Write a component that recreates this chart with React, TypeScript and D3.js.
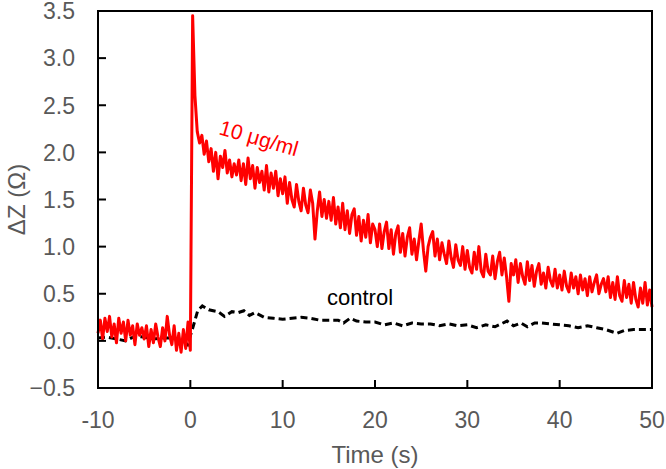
import React from "react";
import * as d3 from "d3";

const redStart = -10;
const redStep = 0.25;
const redValues: number[] = [
  0.08, 0.22, 0.02, 0.24, 0.10, 0.26, 0.04, 0.18, -0.02, 0.24, 0.08, 0.20, 0.00, 0.22, 0.06, 0.16, -0.04, 0.18, 0.06, 0.14,
  0.02, 0.16, -0.06, 0.12, -0.02, 0.18, 0.04, -0.06, 0.14, 0.00, 0.26, 0.06, -0.04, 0.16, -0.10, 0.08, -0.12, 0.12, -0.08, 0.20,
  -0.10, 3.45, 2.60, 2.22, 2.10, 2.18, 1.98, 2.12, 1.90, 2.04, 1.80, 2.00, 1.72, 1.96, 1.84, 2.02, 1.78, 1.92, 1.74, 1.88,
  1.76, 1.92, 1.70, 1.88, 1.66, 1.94, 1.72, 1.86, 1.62, 1.84, 1.68, 1.80, 1.60, 1.86, 1.58, 1.78, 1.62, 1.80, 1.54, 1.72,
  1.56, 1.74, 1.46, 1.68, 1.50, 1.42, 1.66, 1.48, 1.38, 1.62, 1.44, 1.36, 1.60, 1.46, 1.08, 1.38, 1.58, 1.32, 1.50, 1.30,
  1.48, 1.28, 1.52, 1.24, 1.42, 1.20, 1.46, 1.18, 1.38, 1.14, 1.34, 1.40, 1.12, 1.32, 1.06, 1.28, 1.10, 1.34, 1.04, 1.24,
  1.18, 1.00, 1.24, 0.98, 1.16, 1.26, 0.98, 1.18, 0.92, 1.14, 1.22, 0.94, 1.14, 0.90, 1.10, 1.20, 0.92, 1.08, 0.86, 1.06,
  1.24, 0.96, 0.74, 1.00, 1.10, 1.16, 0.90, 1.08, 0.86, 1.04, 0.92, 0.82, 1.06, 0.88, 0.78, 1.02, 0.86, 0.80, 1.00, 0.76,
  0.96, 0.78, 0.72, 0.94, 0.76, 1.00, 0.74, 0.68, 0.92, 0.74, 0.70, 0.90, 0.66, 0.84, 0.94, 0.70, 0.88, 0.68, 0.42, 0.82,
  0.70, 0.86, 0.62, 0.82, 0.68, 0.60, 0.84, 0.64, 0.80, 0.58, 0.74, 0.82, 0.60, 0.72, 0.56, 0.78, 0.64, 0.58, 0.76, 0.56,
  0.70, 0.54, 0.74, 0.58, 0.52, 0.72, 0.56, 0.68, 0.50, 0.70, 0.54, 0.66, 0.48, 0.68, 0.52, 0.62, 0.70, 0.50, 0.60, 0.66,
  0.52, 0.68, 0.46, 0.62, 0.44, 0.68, 0.48, 0.42, 0.64, 0.46, 0.60, 0.40, 0.62, 0.44, 0.36, 0.56, 0.40, 0.62, 0.38, 0.54,
  0.36,
];

const controlTime: number[] = [
  -10, -9, -8, -7, -6, -5, -4, -3, -2, -1, -0.3, 0.3, 0.8, 1.3, 2, 3, 3.7, 4.5, 5.2, 5.8, 6.4, 7, 8, 9, 10,
  11, 12, 13, 14, 15, 16, 16.6, 17.3, 18, 19, 20, 21, 22, 23, 24, 25, 26, 27, 28, 29, 30, 31, 32, 33, 34.3,
  35, 35.8, 36.5, 37.3, 38, 39, 40, 41, 42, 43, 44, 45, 46.2, 47, 48, 49, 50,
];
const controlValues: number[] = [
  0.03, 0.04, 0.02, 0.0, 0.05, 0.04, 0.02, 0.03, 0.03, 0.02, -0.04, 0.15, 0.32, 0.37, 0.33, 0.31, 0.26, 0.31, 0.30, 0.32, 0.27, 0.30, 0.25, 0.24, 0.23,
  0.24, 0.25, 0.24, 0.22, 0.22, 0.22, 0.19, 0.24, 0.21, 0.20, 0.20, 0.17, 0.19, 0.16, 0.19, 0.18, 0.18, 0.16, 0.18, 0.16, 0.17, 0.14, 0.17, 0.15, 0.21,
  0.16, 0.19, 0.15, 0.19, 0.19, 0.18, 0.17, 0.16, 0.14, 0.16, 0.14, 0.12, 0.08, 0.11, 0.12, 0.12, 0.12,
];

const xTicks: number[] = [-10, 0, 10, 20, 30, 40, 50];
const yTicks: number[] = [-0.5, 0, 0.5, 1, 1.5, 2, 2.5, 3, 3.5];

const W = 666;
const H = 469;
const left = 98;
const right = 652;
const top = 11;
const bottom = 388;

const FONT = "'Liberation Sans', Arial, sans-serif";
const GRAY = "#595959";

export default function App() {
  const x = d3.scaleLinear().domain([-10, 50]).range([left, right]);
  const y = d3.scaleLinear().domain([-0.5, 3.5]).range([bottom, top]);

  const redData = redValues.map((v, i) => [redStart + i * redStep, v] as [number, number]);
  const ctrlData = controlTime.map((t, i) => [t, controlValues[i]] as [number, number]);

  const line = d3
    .line<[number, number]>()
    .x((d) => x(d[0]))
    .y((d) => y(d[1]));

  return (
    <svg
      width={W}
      height={H}
      style={{ position: "absolute", left: 0, top: 0, background: "#fff" }}
    >
      <rect x={0} y={0} width={W} height={H} fill="#fff" />
      <path d={line(ctrlData) || ""} fill="none" stroke="#000" strokeWidth={3} strokeDasharray="7 4" />
      <path d={line(redData) || ""} fill="none" stroke="#ff0000" strokeWidth={3} strokeLinejoin="round" />

      <rect x={left} y={top} width={right - left} height={bottom - top} fill="none" stroke="#000" strokeWidth={2} />

      {yTicks.map((t) => (
        <g key={"y" + t}>
          <line x1={left} x2={left + 8} y1={y(t)} y2={y(t)} stroke="#000" strokeWidth={2} />
          <text
            x={left - 23}
            y={y(t)}
            dy="0.36em"
            textAnchor="end"
            fontFamily={FONT}
            fontSize={23}
            fill={GRAY}
          >
            {d3.format(".1f")(t)}
          </text>
        </g>
      ))}

      {xTicks.map((t) => (
        <g key={"x" + t}>
          <line x1={x(t)} x2={x(t)} y1={bottom} y2={bottom - 8} stroke="#000" strokeWidth={2} />
          <text
            x={x(t)}
            y={bottom + 32}
            dy="0.36em"
            textAnchor="middle"
            fontFamily={FONT}
            fontSize={23}
            fill={GRAY}
          >
            {t}
          </text>
        </g>
      ))}

      <text
        x={(left + right) / 2}
        y={454}
        dy="0.36em"
        textAnchor="middle"
        fontFamily={FONT}
        fontSize={24}
        fill={GRAY}
      >
        Time (s)
      </text>
      <text
        transform={`translate(16, ${(top + bottom) / 2}) rotate(-90)`}
        textAnchor="middle"
        dy="0.36em"
        fontFamily={FONT}
        fontSize={24}
        fill={GRAY}
      >
        ΔZ (Ω)
      </text>

      <text
        transform="translate(218, 134) rotate(16)"
        fontFamily={FONT}
        fontSize={21}
        fill="#ff0000"
      >
        10 μg/ml
      </text>
      <text x={327} y={305} fontFamily={FONT} fontSize={22} fill="#000">
        control
      </text>
    </svg>
  );
}
